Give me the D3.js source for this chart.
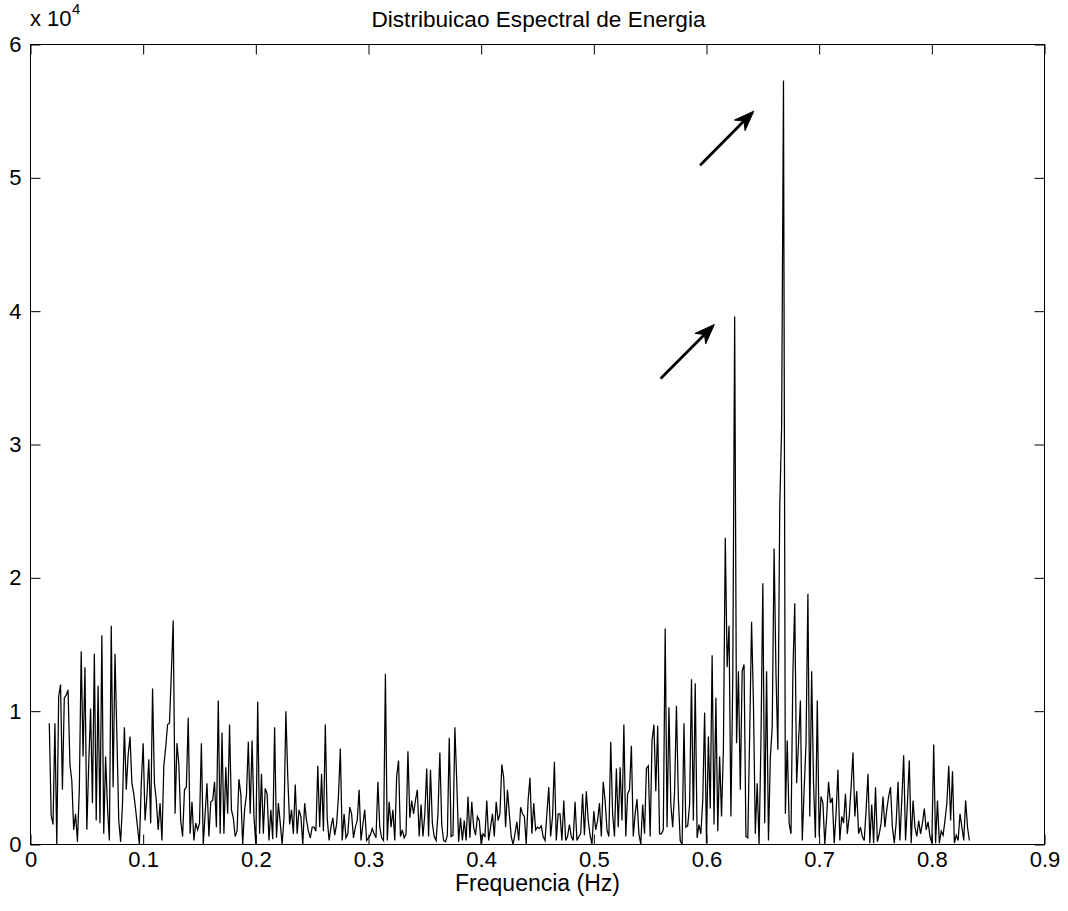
<!DOCTYPE html>
<html>
<head>
<meta charset="utf-8">
<script src="https://cdn.jsdelivr.net/npm/d3@7"></script>
<style>
  body { margin: 0; background: #fff; }
  text { font-family: "Liberation Sans", Arial, Helvetica, sans-serif; fill: #000; }
</style>
</head>
<body>
<svg id="chart" width="1068" height="911"></svg>
<script>
// Spectral lines: index of the first line and spacing of the frequency grid (Hz)
const firstLine = 10;
const lineSpacing = 1 / 600;

// Spectral energy per line, in units of 10^4
const energy = [
  0.91, 0.22, 0.15, 0.91, 0.00, 1.11, 1.20, 0.41, 1.10, 1.12,
  1.16, 0.60, 0.48, 0.11, 0.23, 0.02, 0.41, 1.45, 0.66, 1.33,
  0.11, 0.60, 1.02, 0.31, 1.43, 0.18, 1.19, 0.16, 1.57, 0.08,
  0.66, 0.28, 0.03, 1.64, 0.43, 1.43, 0.82, 0.18, 0.02, 0.31,
  0.88, 0.41, 0.67, 0.81, 0.46, 0.38, 0.26, 0.13, 0.00, 0.46,
  0.76, 0.18, 0.36, 0.64, 0.16, 1.17, 0.46, 0.33, 0.11, 0.31,
  0.03, 0.59, 0.73, 0.90, 0.91, 1.28, 1.68, 0.23, 0.76, 0.60,
  0.18, 0.06, 0.41, 0.43, 0.95, 0.08, 0.32, 0.03, 0.16, 0.11,
  0.16, 0.76, 0.00, 0.23, 0.46, 0.06, 0.32, 0.33, 0.47, 0.13,
  1.08, 0.08, 0.84, 0.08, 0.58, 0.23, 0.90, 0.26, 0.20, 0.06,
  0.10, 0.49, 0.38, 0.00, 0.26, 0.37, 0.77, 0.23, 0.78, 0.21,
  0.00, 1.07, 0.08, 0.53, 0.08, 0.42, 0.38, 0.03, 0.26, 0.04,
  0.88, 0.05, 0.31, 0.16, 0.00, 0.20, 1.00, 0.51, 0.15, 0.26,
  0.08, 0.45, 0.08, 0.26, 0.21, 0.00, 0.31, 0.18, 0.10, 0.05,
  0.13, 0.13, 0.10, 0.59, 0.13, 0.53, 0.10, 0.90, 0.20, 0.03,
  0.13, 0.20, 0.07, 0.15, 0.36, 0.72, 0.03, 0.23, 0.05, 0.08,
  0.28, 0.23, 0.05, 0.13, 0.18, 0.41, 0.03, 0.15, 0.26, 0.03,
  0.05, 0.07, 0.12, 0.08, 0.05, 0.47, 0.13, 0.05, 0.03, 1.28,
  0.03, 0.32, 0.13, 0.26, 0.03, 0.51, 0.63, 0.06, 0.11, 0.05,
  0.08, 0.70, 0.20, 0.33, 0.23, 0.33, 0.41, 0.06, 0.30, 0.06,
  0.23, 0.57, 0.06, 0.56, 0.16, 0.06, 0.03, 0.23, 0.69, 0.15,
  0.03, 0.02, 0.07, 0.80, 0.06, 0.07, 0.88, 0.47, 0.02, 0.20,
  0.03, 0.18, 0.03, 0.36, 0.05, 0.32, 0.13, 0.07, 0.21, 0.18,
  0.00, 0.08, 0.06, 0.33, 0.03, 0.13, 0.23, 0.06, 0.32, 0.18,
  0.23, 0.60, 0.50, 0.13, 0.41, 0.23, 0.06, 0.00, 0.08, 0.17,
  0.03, 0.28, 0.23, 0.21, 0.00, 0.33, 0.50, 0.08, 0.31, 0.11,
  0.13, 0.12, 0.14, 0.06, 0.03, 0.23, 0.43, 0.06, 0.21, 0.62,
  0.03, 0.23, 0.23, 0.03, 0.33, 0.03, 0.06, 0.15, 0.06, 0.03,
  0.32, 0.03, 0.06, 0.08, 0.38, 0.07, 0.40, 0.18, 0.07, 0.00,
  0.25, 0.11, 0.18, 0.31, 0.06, 0.47, 0.33, 0.11, 0.06, 0.77,
  0.23, 0.06, 0.57, 0.13, 0.58, 0.18, 0.90, 0.06, 0.38, 0.41,
  0.74, 0.06, 0.23, 0.34, 0.08, 0.00, 0.30, 0.08, 0.57, 0.59,
  0.06, 0.78, 0.90, 0.40, 0.89, 0.08, 0.08, 0.11, 1.62, 0.13,
  1.03, 0.30, 0.13, 0.40, 1.04, 0.35, 0.03, 0.00, 0.91, 0.13,
  0.14, 0.30, 1.24, 0.18, 1.21, 0.05, 0.15, 0.08, 0.33, 0.99,
  0.01, 0.81, 0.27, 1.42, 0.15, 1.10, 0.10, 0.66, 0.21, 0.71,
  2.30, 1.33, 1.64, 0.21, 1.25, 3.96, 0.76, 1.30, 0.41, 1.30,
  1.35, 0.06, 0.05, 0.83, 1.67, 1.06, 0.08, 0.46, 0.00, 0.77,
  1.96, 0.16, 1.30, 0.03, 0.65, 0.88, 2.22, 1.28, 0.71, 2.52,
  3.13, 5.73, 0.23, 0.78, 0.16, 0.08, 1.28, 1.81, 0.46, 0.76,
  1.08, 0.03, 0.41, 0.76, 1.88, 0.21, 1.30, 0.46, 0.05, 1.08,
  0.06, 0.36, 0.31, 0.00, 0.21, 0.47, 0.31, 0.35, 0.01, 0.23,
  0.56, 0.03, 0.21, 0.16, 0.38, 0.08, 0.21, 0.43, 0.69, 0.21,
  0.40, 0.08, 0.13, 0.06, 0.03, 0.26, 0.53, 0.01, 0.30, 0.01,
  0.43, 0.02, 0.08, 0.16, 0.36, 0.13, 0.26, 0.36, 0.43, 0.13,
  0.01, 0.16, 0.47, 0.03, 0.33, 0.67, 0.03, 0.31, 0.63, 0.01,
  0.33, 0.13, 0.06, 0.18, 0.08, 0.16, 0.27, 0.11, 0.17, 0.06,
  0.01, 0.75, 0.01, 0.33, 0.01, 0.10, 0.07, 0.18, 0.31, 0.59,
  0.18, 0.55, 0.01, 0.07, 0.03, 0.23, 0.13, 0.03, 0.33, 0.13,
  0.03
];

// Axis ticks
const xTicks = [0, 0.1, 0.2, 0.3, 0.4, 0.5, 0.6, 0.7, 0.8, 0.9];
const yTicks = [0, 1, 2, 3, 4, 5, 6];
const xDomain = [0, 0.9];
const yDomain = [0, 6];

// Annotation arrows [fromFreq, fromEnergy, toFreq, toEnergy]
const arrowLow = [0.560, 3.50, 0.607, 3.90];
const arrowHigh = [0.595, 5.10, 0.642, 5.50];

const titleText = "Distribuicao Espectral de Energia";
const xLabelText = "Frequencia (Hz)";

const svg = d3.select("#chart");
const plotLeft = 30.5, plotRight = 1044.5, plotTop = 44.5, plotBottom = 844.5;

const x = d3.scaleLinear().domain(xDomain).range([plotLeft, plotRight]);
const y = d3.scaleLinear().domain(yDomain).range([plotBottom, plotTop]);

const points = energy.map((v, i) => ({ f: (firstLine + i) * lineSpacing, v }));

// Spectrum trace
svg.append("path")
  .datum(points)
  .attr("fill", "none")
  .attr("stroke", "#000")
  .attr("stroke-width", 1.25)
  .attr("stroke-linejoin", "miter")
  .attr("d", d3.line().x(d => x(d.f)).y(d => y(d.v)));

// Axes with inward ticks on all four sides
const tickLen = 10;
const fmt = d => String(d);
const fontSize = 22;

const gBottom = svg.append("g").attr("transform", `translate(0,${plotBottom})`)
  .call(d3.axisBottom(x).tickValues(xTicks).tickFormat(fmt).tickSizeInner(-tickLen).tickSizeOuter(0).tickPadding(7));
const gTop = svg.append("g").attr("transform", `translate(0,${plotTop})`)
  .call(d3.axisTop(x).tickValues(xTicks).tickFormat("").tickSizeInner(-tickLen).tickSizeOuter(0));
const gLeft = svg.append("g").attr("transform", `translate(${plotLeft},0)`)
  .call(d3.axisLeft(y).tickValues(yTicks).tickFormat(fmt).tickSizeInner(-tickLen).tickSizeOuter(0).tickPadding(9));
const gRight = svg.append("g").attr("transform", `translate(${plotRight},0)`)
  .call(d3.axisRight(y).tickValues(yTicks).tickFormat("").tickSizeInner(-tickLen).tickSizeOuter(0));

[gBottom, gTop, gLeft, gRight].forEach(g => {
  g.select(".domain").remove();
  g.selectAll(".tick line").attr("stroke", "#000").attr("stroke-width", 1);
  g.selectAll(".tick text").attr("font-size", fontSize).attr("font-family", null).style("fill", "#000");
});

// Frame
svg.append("rect")
  .attr("x", plotLeft).attr("y", plotTop)
  .attr("width", plotRight - plotLeft).attr("height", plotBottom - plotTop)
  .attr("fill", "none").attr("stroke", "#000").attr("stroke-width", 1);

// Exponent of the y axis
svg.append("text").attr("x", 30).attr("y", 26).attr("font-size", fontSize).text("x 10");
svg.append("text").attr("x", 72).attr("y", 14).attr("font-size", 15).text("4");

// Title and x label
svg.append("text").attr("x", (plotLeft + plotRight) / 2 + 1).attr("y", 27)
  .attr("text-anchor", "middle").attr("font-size", 22.6).text(titleText);
svg.append("text").attr("x", (plotLeft + plotRight) / 2).attr("y", 891)
  .attr("text-anchor", "middle").attr("font-size", 23).text(xLabelText);

// Arrows
function drawArrow(a) {
  const x0 = x(a[0]), y0 = y(a[1]), x1 = x(a[2]), y1 = y(a[3]);
  const ang = Math.atan2(y1 - y0, x1 - x0);
  const len = 20, half = 7.5, notch = 14;
  const ux = Math.cos(ang), uy = Math.sin(ang);
  const px = -uy, py = ux;
  const bx = x1 - ux * len, by = y1 - uy * len;
  const nx = x1 - ux * notch, ny = y1 - uy * notch;
  svg.append("line")
    .attr("x1", x0).attr("y1", y0).attr("x2", nx).attr("y2", ny)
    .attr("stroke", "#000").attr("stroke-width", 2.8).attr("stroke-linecap", "round");
  svg.append("path")
    .attr("d", `M${x1},${y1}L${bx + px * half},${by + py * half}L${nx},${ny}L${bx - px * half},${by - py * half}Z`)
    .attr("fill", "#000").attr("stroke", "#000").attr("stroke-width", 1).attr("stroke-linejoin", "miter");
}
drawArrow(arrowLow);
drawArrow(arrowHigh);
</script>
</body>
</html>
